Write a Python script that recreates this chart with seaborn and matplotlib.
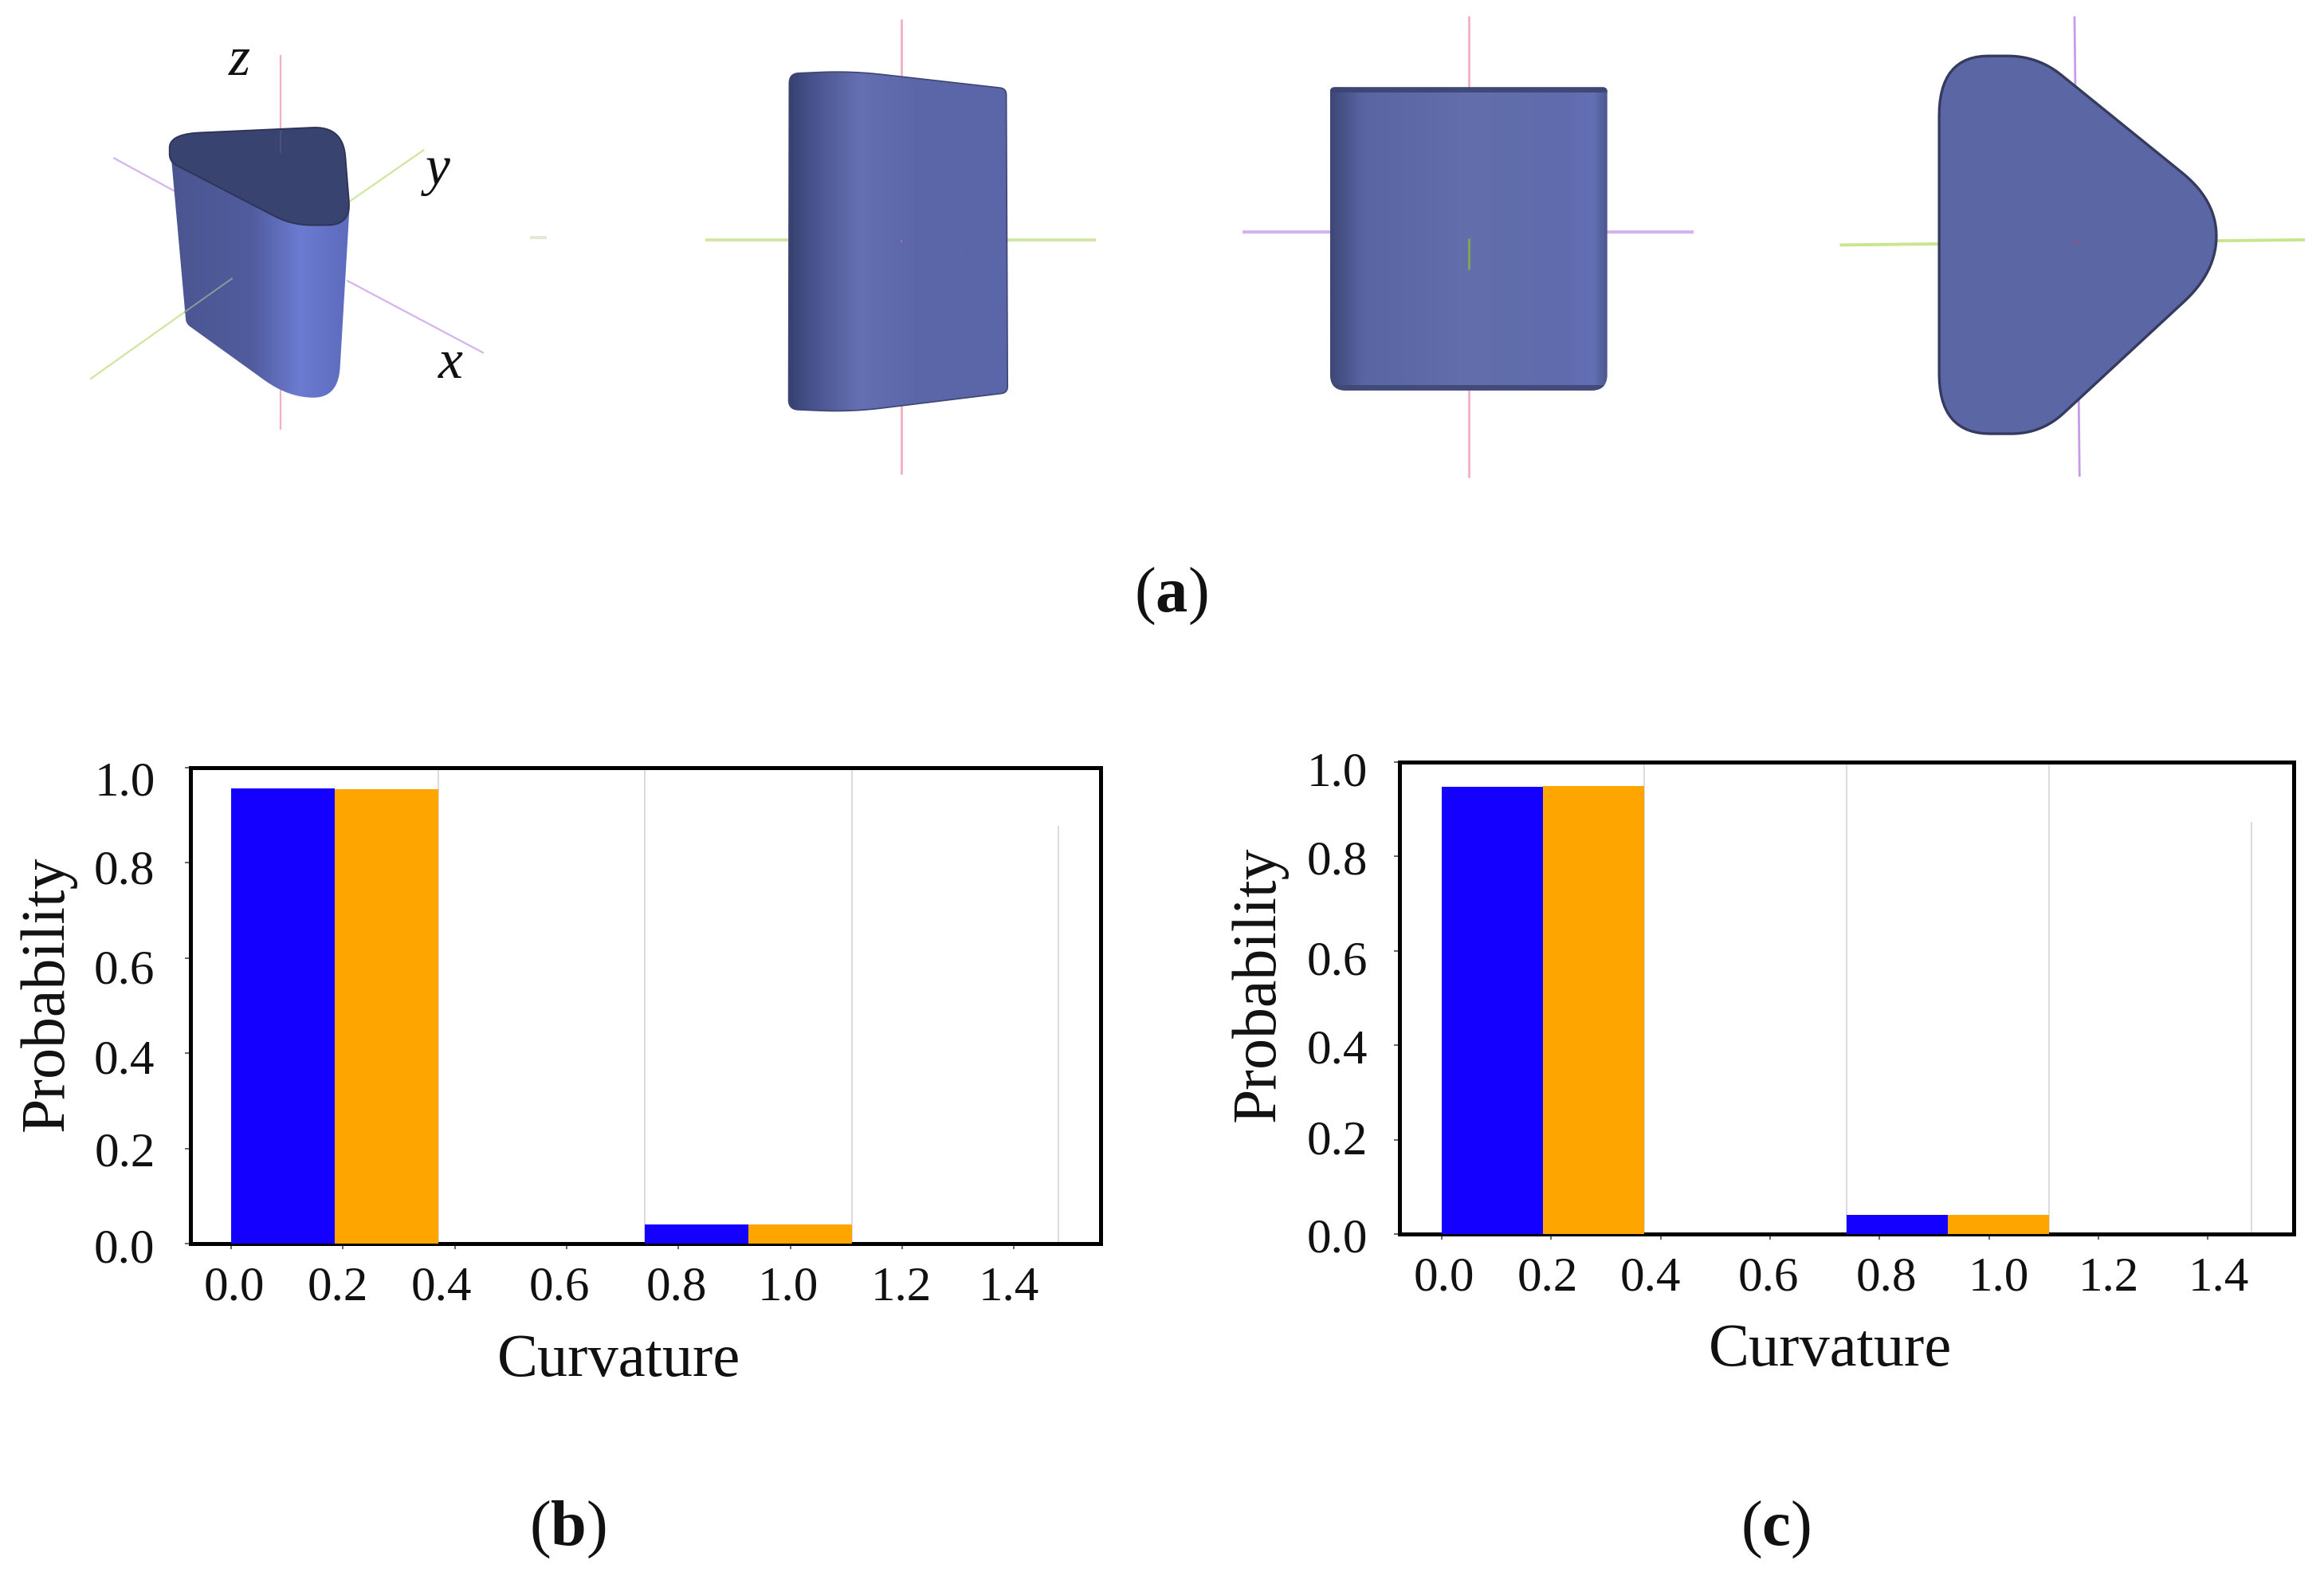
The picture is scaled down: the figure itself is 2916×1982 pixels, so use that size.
import numpy as np
import pandas as pd
import matplotlib
matplotlib.use("Agg")
import matplotlib.pyplot as plt
from matplotlib.patches import PathPatch, Polygon, Rectangle
from matplotlib.path import Path
from matplotlib.colors import LinearSegmentedColormap
from matplotlib.transforms import ScaledTranslation
import seaborn as sns

sns.set_theme(style="white")
plt.rcParams["font.family"] = ["Liberation Serif", "DejaVu Serif"]
plt.rcParams["mathtext.fontset"] = "custom"
plt.rcParams["mathtext.rm"] = "Liberation Serif"
plt.rcParams["mathtext.bf"] = "Liberation Serif:bold"
plt.rcParams["mathtext.it"] = "Liberation Serif:italic"

# ---- data ----
bin_edges = [0.0, 0.37, 0.74, 1.11, 1.48]
bin_centres = [0.185, 0.555, 0.925, 1.295]
blue_b = [0.957, 0.0, 0.041, 0.0]
orange_b = [0.955, 0.0, 0.041, 0.0]
blue_c = [0.947, 0.0, 0.041, 0.0]
orange_c = [0.949, 0.0, 0.041, 0.0]
x_ticks = [0.0, 0.2, 0.4, 0.6, 0.8, 1.0, 1.2, 1.4]
y_ticks = [0.0, 0.2, 0.4, 0.6, 0.8, 1.0]
grid_x = [0.37, 0.74, 1.11, 1.48]
grid_top_b = [1.0, 1.0, 1.0, 0.877]
grid_top_c = [1.0, 1.0, 1.0, 0.874]
x_shift_b = [4, -7, -17, -9, -2, -3, -1, -6]
x_shift_c = [3, -5, -13, -2, 9, 12, 13, 14]
y_shift_b = [-2, -1, -4, -10, -5, -13]
y_shift_c = [-1, 3, -1, -8, -1, -8]

W, H = 2916, 1982
fig = plt.figure(figsize=(W / 100, H / 100), dpi=100, facecolor="white")


def add_axes_px(l, t, r, b):
    return fig.add_axes([l / W, 1 - b / H, (r - l) / W, (b - t) / H])


def hist_panel(box, blue, orange, xlim, grid_top, xs, ys, ypad, xl, yl):
    ax = add_axes_px(*box)
    df = pd.DataFrame({
        "Curvature": bin_centres * 2,
        "weight": blue + orange,
        "series": ["blue"] * 4 + ["orange"] * 4,
    })
    sns.histplot(data=df, x="Curvature", weights="weight", hue="series", bins=bin_edges,
                 multiple="dodge", shrink=1.0, alpha=1.0, linewidth=0,
                 hue_order=["blue", "orange"], palette={"blue": "#1400ff", "orange": "#ffa500"},
                 legend=False, ax=ax, zorder=3)
    ax.vlines(grid_x, 0, grid_top, colors="#dcdcdc", lw=1.4, zorder=1)
    ax.set_xlim(*xlim)
    ax.set_ylim(0, 1)
    ax.set_xticks(x_ticks)
    ax.set_xticklabels([f"{v:.1f}" for v in x_ticks])
    ax.set_yticks(y_ticks)
    ax.set_yticklabels([f"{v:.1f}" for v in y_ticks])
    ax.tick_params(axis="both", labelsize=44, length=5, width=1.4, color="#666666",
                   labelcolor="#111111", direction="out", bottom=True, left=True)
    ax.tick_params(axis="x", pad=15)
    ax.tick_params(axis="y", pad=ypad)
    for lab, dx in zip(ax.get_xticklabels(), xs):
        lab.set_transform(lab.get_transform() + ScaledTranslation(dx / 100, 0, fig.dpi_scale_trans))
    for lab, dy in zip(ax.get_yticklabels(), ys):
        lab.set_transform(lab.get_transform() + ScaledTranslation(0, dy / 100, fig.dpi_scale_trans))
    for s in ax.spines.values():
        s.set_visible(True)
        s.set_color("black")
        s.set_linewidth(3.6)
    ax.set_xlabel("Curvature", fontsize=55, color="#111111", va="center")
    ax.set_ylabel("Probability", fontsize=56, color="#111111", va="center")
    ax.xaxis.set_label_coords(*xl)
    ax.yaxis.set_label_coords(*yl)
    return ax


hist_panel((239, 963, 1381, 1560), blue_b, orange_b, (-0.0727, 1.555), grid_top_b,
           x_shift_b, y_shift_b, 27, (0.471, -0.247), (-0.157, 0.526))
hist_panel((1756, 956, 2878, 1548), blue_c, orange_c, (-0.0772, 1.557), grid_top_c,
           x_shift_c, y_shift_c, 24, (0.482, -0.247), (-0.157, 0.53))

# ---- overlay for the rendered solid views, in reference pixels ----
ov = fig.add_axes([0, 0, 1, 1], zorder=5)
ov.set_xlim(0, W)
ov.set_ylim(H, 0)
ov.axis("off")
ov.patch.set_alpha(0)

PINK = "#f2b0c4"
PURPLE = "#d5b4ee"
GREEN = "#cfe6a0"


def rounded(corners, to_px, n=16):
    """Closed outline from (x, y, r) corners; r is the corner's tangent distance in pixels."""
    c = np.asarray(corners, float)
    p = to_px(c[:, :2])
    r = c[:, 2]
    m = len(p)
    out = []
    for i in range(m):
        a, b, d = p[i - 1], p[i], p[(i + 1) % m]
        la, ld = np.linalg.norm(a - b), np.linalg.norm(d - b)
        s = b + (a - b) / la * min(r[i], la / 2)
        e = b + (d - b) / ld * min(r[i], ld / 2)
        for t in np.linspace(0, 1, n):
            out.append((1 - t) ** 2 * s + 2 * t * (1 - t) * b + t ** 2 * e)
    return np.array(out)


def shaded(p, stops, edge=None, z=3.0, lw=1.8):
    cmap = LinearSegmentedColormap.from_list("s", stops)
    g = np.linspace(0, 1, 256).reshape(1, -1)
    x0, x1, y0, y1 = p[:, 0].min(), p[:, 0].max(), p[:, 1].min(), p[:, 1].max()
    im = ov.imshow(g, cmap=cmap, extent=(x0, x1, y1, y0), aspect="auto", zorder=z, interpolation="bilinear")
    patch = PathPatch(Path(np.vstack([p, p[:1]]), closed=True), transform=ov.transData, fc="none", ec="none")
    ov.add_patch(patch)
    im.set_clip_path(patch)
    if edge:
        ov.add_patch(Polygon(p, closed=True, fc="none", ec=edge, lw=lw, zorder=z + 0.1))
    return patch


def line(a, b, c, lw=1.6, z=2.0, alpha=1.0):
    ov.plot([a[0], b[0]], [a[1], b[1]], color=c, lw=lw, zorder=z, alpha=alpha, solid_capstyle="butt")


def v12(p):
    p = np.asarray(p, float)
    return np.column_stack([80 + p[:, 0] / 1.205, p[:, 1] / 2.45])


def v34(p):
    p = np.asarray(p, float)
    return np.column_stack([1500 + p[:, 0] / 1.107, p[:, 1] / 2.45])


def seg12(a, b, c, **k):
    q = v12([a, b])
    line(q[0], q[1], c, **k)


def seg34(a, b, c, **k):
    q = v34([a, b])
    line(q[0], q[1], c, **k)


# view 1: perspective
seg12((328, 170), (328, 1320), PINK)
seg12((75, 485), (170, 590), PURPLE)
seg12((428, 862), (635, 1085), PURPLE)
seg12((545, 460), (428, 625), GREEN)
seg12((40, 1165), (182, 960), GREEN)

body1 = [(163, 495, 0), (185, 995, 6), (340, 1222, 38), (415, 1222, 38), (432, 640, 0), (350, 500, 0)]
shaded(rounded(body1, v12), [(0, "#4a5590"), (0.45, "#515c9e"), (0.72, "#6b7bd0"), (1, "#5d6bbd")])
seg12((182, 960), (255, 855), "#8d9a9c", lw=1.4, z=3.5)
cap1 = [(160, 412, 38), (422, 388, 38), (434, 692, 30), (345, 692, 25), (160, 497, 10)]
shaded(rounded(cap1, v12), [(0, "#39436f"), (1, "#39436f")], edge="#2d3558", z=4.0, lw=1.4)
seg12((328, 400), (328, 470), "#4e5580", lw=1.2, z=4.5)
ov.text(*v12([(265, 190)])[0], "z", fontsize=50, style="italic", ha="center", va="center", color="#111111", zorder=6)
ov.text(*v12([(565, 525)])[0], "y", fontsize=50, style="italic", ha="center", va="center", color="#111111", zorder=6)
ov.text(*v12([(585, 1120)])[0], "x", fontsize=50, style="italic", ha="center", va="center", color="#111111", zorder=6)
seg12((705, 731), (730, 731), "#e4ead0", lw=3)

# view 2: side
seg12((1266, 60), (1266, 1458), PINK, lw=2.0)
seg12((970, 737), (1560, 737), GREEN, lw=2.6)
body2 = [(1097, 226, 12), (1190, 218, 40), (1425, 272, 8), (1427, 1207, 8), (1190, 1266, 40), (1096, 1258, 12)]
shaded(rounded(body2, v12), [(0, "#37416f"), (0.1, "#47528c"), (0.32, "#6470b2"), (0.6, "#5a66a8"), (1, "#5a66a8")],
       edge="#3d4674", z=3.0, lw=1.2)
seg12((1266, 738), (1266, 746), "#b060d0", lw=1.4, z=4.0)

# view 3: front
seg34((380, 50), (380, 1468), PINK, lw=2.0)
seg34((65, 712), (692, 712), PURPLE, lw=3.0)
body3 = [(187, 268, 6), (572, 268, 6), (572, 1200, 20), (187, 1200, 20)]
clip3 = shaded(rounded(body3, v34), [(0, "#3d4776"), (0.12, "#5a65a4"), (0.5, "#626fab"), (0.85, "#5f6bad"),
                                     (0.95, "#6370b4"), (1, "#4d5890")], z=3.0)
for y_a, y_b, col in [(268, 285, "#3c4570"), (1184, 1200, "#3f4875")]:
    a = v34([(187, y_a), (572, y_b)])
    band = Rectangle(a[0], a[1, 0] - a[0, 0], a[1, 1] - a[0, 1], fc=col, ec="none", alpha=0.9, zorder=3.2)
    ov.add_patch(band)
    band.set_clip_path(clip3)
seg34((380, 732), (380, 828), "#84a84e", lw=2.0, z=4.0)

# view 4: top
seg34((1221, 50), (1228, 1465), "#c69cea", lw=2.0)
seg34((895, 753), (1541, 737), "#c9e68e", lw=2.8)
body4 = [(1033, 172, 75), (1170, 172, 38), (1418, 616, 55), (1418, 835, 55), (1175, 1333, 38), (1033, 1333, 75)]
ov.add_patch(Polygon(rounded(body4, v34), closed=True, fc="#5b66a5", ec="#343b5e", lw=2.4, zorder=3))
seg34((1223, 740), (1223, 753), "#b04070", lw=1.4, z=4.0)

# ---- panel letters ----
for x, y, s in [(790, 402, "a"), (383, 1032, "b"), (1198, 1032, "c")]:
    ov.text(x * W / 1568, y * H / 1066, "($\\mathbf{" + s + "}$)",
            fontsize=58, ha="center", va="center", color="#111111", zorder=6)

ov.set_xlim(0, W)
ov.set_ylim(H, 0)
fig.savefig("out.png", dpi=100, facecolor="white")
